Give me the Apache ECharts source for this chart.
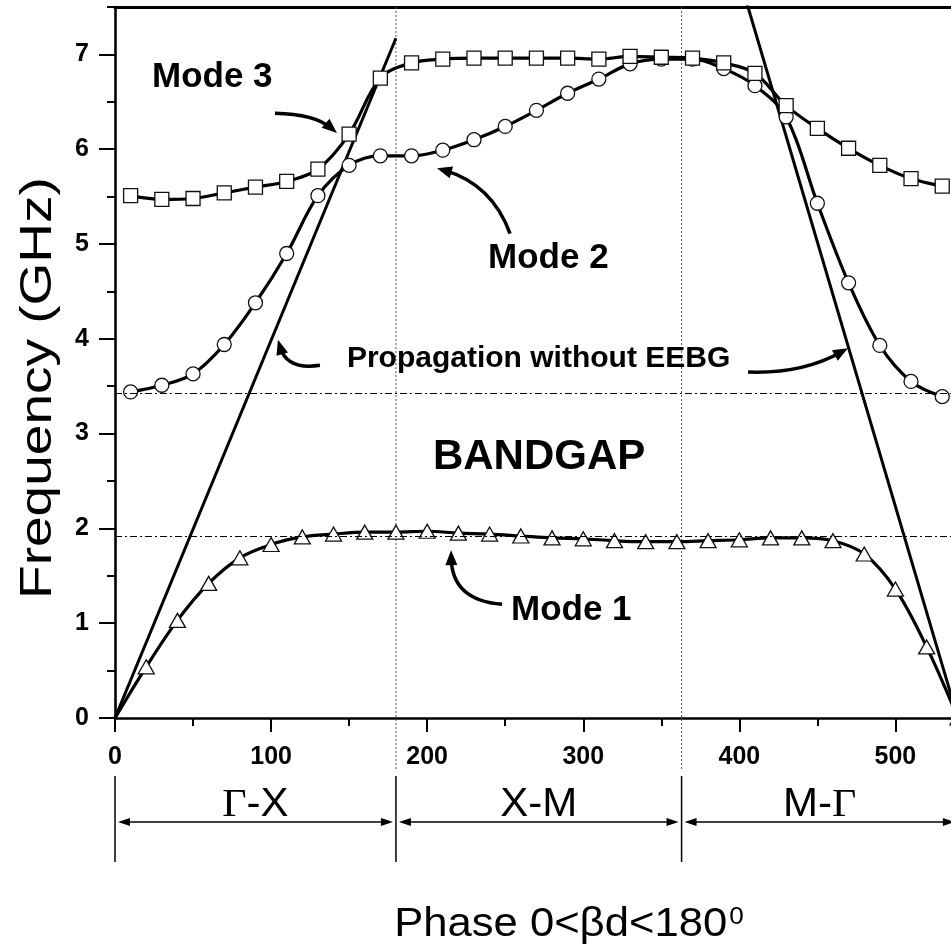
<!DOCTYPE html>
<html>
<head>
<meta charset="utf-8">
<script src="https://cdn.jsdelivr.net/npm/echarts@6/dist/echarts.min.js"></script>
<style>
  html, body { margin: 0; padding: 0; background: #ffffff; }
  #chart { width: 951px; height: 947px; }
</style>
</head>
<body>
<div id="chart"></div>
<script>
// Dispersion diagram along the Γ-X-M-Γ path (phase in degrees, frequency in GHz)
const phaseMode1 = [0, 20, 40, 60, 80, 100, 120, 140, 160, 180, 200, 220, 240, 260,
  280, 300, 320, 340, 360, 380, 400, 420, 440, 460, 480, 500, 520, 540];
const freqMode1 = [0, 0.54, 1.03, 1.42, 1.69, 1.83, 1.91, 1.94, 1.96, 1.96, 1.97, 1.95, 1.94, 1.92,
  1.90, 1.89, 1.87, 1.86, 1.86, 1.87, 1.88, 1.90, 1.90, 1.87, 1.73, 1.36, 0.75, 0];

const phaseModes23 = [10, 30, 50, 70, 90, 110, 130, 150, 170, 190, 210, 230, 250, 270,
  290, 310, 330, 350, 370, 390, 410, 430, 450, 470, 490, 510, 530];
const freqMode2 = [3.44, 3.51, 3.63, 3.94, 4.38, 4.90, 5.51, 5.83, 5.93, 5.93, 5.99, 6.10, 6.24, 6.41,
  6.59, 6.74, 6.90, 6.95, 6.95, 6.85, 6.67, 6.34, 5.43, 4.59, 3.93, 3.55, 3.39];
const freqMode3 = [5.51, 5.47, 5.48, 5.54, 5.60, 5.66, 5.79, 6.16, 6.75, 6.91, 6.95, 6.96, 6.96, 6.96,
  6.96, 6.95, 6.98, 6.97, 6.96, 6.91, 6.80, 6.46, 6.22, 6.01, 5.83, 5.69, 5.61];

// Free propagation (no EEBG) light lines
const lightLeftPhase = [0, 180];
const lightLeftFreq = [0, 7.17];
const lightRightPhase = [400, 540];
const lightRightFreq = [7.81, 0];

// Band-gap edges and symmetry points
const bandEdgeFreqs = [3.43, 1.92];
const symmetryPhases = [0, 180, 363, 540];
const segmentNames = ['{g|Γ}-X', 'X-M', 'M-{g|Γ}'];

// Axis ranges
const phaseRange = [0, 600];
const phaseStep = 100;
const freqRange = [0, 7.5];
const freqStep = 1;

// Text annotations and pointer arrows, anchored in phase/frequency units
const notes = [
  { text: 'Mode 3', at: [23.7, 6.76], size: 35 },
  { text: 'Mode 2', at: [239, 4.85], size: 35 },
  { text: 'Mode 1', at: [253.7, 1.14], size: 35 },
  { text: 'Propagation without EEBG', at: [148.6, 3.79], size: 30 },
  { text: 'BANDGAP', at: [203.7, 2.75], size: 42 }
];
const pointers = [
  { from: [102.5, 6.38], ctrl: [128.1, 6.37], to: [142.2, 6.17] },
  { from: [253.1, 5.11], ctrl: [241.5, 5.63], to: [206.3, 5.80] },
  { from: [131.3, 3.72], ctrl: [110.2, 3.67], to: [104.4, 3.99] },
  { from: [405.6, 3.65], ctrl: [440.2, 3.63], to: [469.6, 3.90] },
  { from: [248.0, 1.20], ctrl: [216.0, 1.24], to: [215.3, 1.77] }
];

const FONT = "'Liberation Sans', Arial, Helvetica, sans-serif";
const zip = (xs, ys) => xs.map((x, i) => [x, ys[i]]);

const markerStyle = { color: '#ffffff', borderColor: '#111111', borderWidth: 1.3 };
const curveStyle = { color: '#000000', width: 3.2 };

const mode1Data = zip(phaseMode1, freqMode1).map((p, i) =>
  (i === 0 ? { value: p, symbol: 'none' } : p));

const option = {
  animation: false,
  backgroundColor: '#ffffff',
  grid: {
    left: 115, top: 7, right: -100.5, bottom: 229,
    containLabel: false, outerBoundsMode: 'none'
  },
  xAxis: [
    {
      type: 'value', position: 'bottom', min: phaseRange[0], max: phaseRange[1], interval: phaseStep,
      axisLine: { show: true, onZero: false, lineStyle: { color: '#000', width: 2.6 } },
      axisTick: { show: true, inside: false, length: 14, lineStyle: { color: '#000', width: 2 } },
      minorTick: { show: true, splitNumber: 2, length: 8, lineStyle: { color: '#000', width: 2 } },
      axisLabel: { color: '#000', fontSize: 25, fontWeight: 'bold', fontFamily: FONT, margin: 27, showMaxLabel: false },
      splitLine: { show: false }
    },
    {
      type: 'value', position: 'top', min: phaseRange[0], max: phaseRange[1],
      axisLine: { show: true, onZero: false, lineStyle: { color: '#000', width: 3 } },
      axisTick: { show: false }, axisLabel: { show: false }, splitLine: { show: false }
    }
  ],
  yAxis: [
    {
      type: 'value', position: 'left', min: freqRange[0], max: freqRange[1], interval: freqStep,
      axisLine: { show: true, onZero: false, lineStyle: { color: '#000', width: 2.6 } },
      axisTick: { show: true, inside: false, length: 16, lineStyle: { color: '#000', width: 2 } },
      axisLabel: { color: '#000', fontSize: 25, fontWeight: 'bold', fontFamily: FONT, margin: 26, showMaxLabel: false },
      splitLine: { show: false }
    },
    {
      type: 'value', position: 'left', min: freqRange[0], max: freqRange[1], interval: freqStep / 2,
      axisLine: { show: false },
      axisTick: { show: true, inside: false, length: 8, lineStyle: { color: '#000', width: 2 } },
      axisLabel: { show: false }, splitLine: { show: false }
    }
  ],
  series: [
    {
      name: 'Light line Γ-X', type: 'line', clip: true, symbol: 'none',
      data: zip(lightLeftPhase, lightLeftFreq), lineStyle: { color: '#000', width: 3 }, z: 2
    },
    {
      name: 'Light line M-Γ', type: 'line', clip: true, symbol: 'none',
      data: zip(lightRightPhase, lightRightFreq), lineStyle: { color: '#000', width: 3 }, z: 2
    },
    {
      name: 'Mode 1', type: 'line', clip: true, smooth: 0.35,
      symbol: 'triangle', symbolSize: [16, 14],
      data: mode1Data, lineStyle: curveStyle, itemStyle: markerStyle, z: 3,
      markLine: {
        silent: true, symbol: ['none', 'none'], label: { show: false },
        lineStyle: { color: '#000', width: 1, type: [7, 3, 2, 3] },
        data: bandEdgeFreqs.map(v => ({ yAxis: v }))
      }
    },
    {
      name: 'Mode 2', type: 'line', clip: true, smooth: 0.35,
      symbol: 'circle', symbolSize: 14,
      data: zip(phaseModes23, freqMode2), lineStyle: curveStyle, itemStyle: markerStyle, z: 4
    },
    {
      name: 'Mode 3', type: 'line', clip: true, smooth: 0.35,
      symbol: 'rect', symbolSize: 14,
      data: zip(phaseModes23, freqMode3), lineStyle: curveStyle, itemStyle: markerStyle, z: 5
    }
  ]
};

const chart = echarts.init(document.getElementById('chart'), null, { renderer: 'canvas' });
chart.setOption(option);

const toPx = (p) => chart.convertToPixel({ xAxisIndex: 0, yAxisIndex: 0 }, p);

function arrowHead(tip, from, len, half) {
  const dx = tip[0] - from[0], dy = tip[1] - from[1];
  const d = Math.hypot(dx, dy) || 1;
  const ux = dx / d, uy = dy / d;
  const bx = tip[0] - ux * len, by = tip[1] - uy * len;
  return [[tip[0], tip[1]], [bx - uy * half, by + ux * half], [bx + uy * half, by - ux * half]];
}

const elements = [];

// Annotation texts
notes.forEach(n => {
  const p = toPx(n.at);
  elements.push({
    type: 'text', x: p[0], y: p[1], z: 20,
    style: { text: n.text, fill: '#000', fontSize: n.size, fontWeight: 'bold', fontFamily: FONT,
      align: 'left', verticalAlign: 'middle' }
  });
});

// Curved pointer arrows
pointers.forEach(a => {
  const s = toPx(a.from), c = toPx(a.ctrl), e = toPx(a.to);
  const dx = e[0] - c[0], dy = e[1] - c[1];
  const d = Math.hypot(dx, dy) || 1;
  const end = [e[0] - dx / d * 8, e[1] - dy / d * 8];
  elements.push({
    type: 'bezierCurve', z: 20,
    shape: { x1: s[0], y1: s[1], cpx1: c[0], cpy1: c[1], x2: end[0], y2: end[1] },
    style: { stroke: '#000', lineWidth: 3.5, fill: null }
  });
  elements.push({
    type: 'polygon', z: 21,
    shape: { points: arrowHead(e, c, 15, 6) },
    style: { fill: '#000' }
  });
});

// Symmetry-point guides: dotted in the plot, solid brackets with arrows below
const topPx = toPx([0, freqRange[1]])[1];
const axisPx = toPx([0, freqRange[0]])[1];
const sx = symmetryPhases.map(v => toPx([v, 0])[0]);
sx.forEach((x, i) => {
  if (i > 0 && i < sx.length - 1) {
    elements.push({
      type: 'line', z: 1,
      shape: { x1: x, y1: topPx, x2: x, y2: axisPx + 52 },
      style: { stroke: '#555', lineWidth: 1, lineDash: [2, 2] }
    });
  }
  elements.push({
    type: 'line', z: 10,
    shape: { x1: x, y1: axisPx + 58, x2: x, y2: axisPx + 144 },
    style: { stroke: '#000', lineWidth: 1.5 }
  });
});
const arrowY = axisPx + 104;
for (let i = 0; i < sx.length - 1; i++) {
  const a = sx[i] + 3, b = sx[i + 1] - 3;
  elements.push({
    type: 'line', z: 10,
    shape: { x1: a + 8, y1: arrowY, x2: b - 8, y2: arrowY },
    style: { stroke: '#000', lineWidth: 1.5 }
  });
  elements.push({ type: 'polygon', z: 10, shape: { points: arrowHead([a, arrowY], [a + 20, arrowY], 12, 4) }, style: { fill: '#000' } });
  elements.push({ type: 'polygon', z: 10, shape: { points: arrowHead([b, arrowY], [b - 20, arrowY], 12, 4) }, style: { fill: '#000' } });
  elements.push({
    type: 'text', x: (sx[i] + sx[i + 1]) / 2, y: axisPx + 87, z: 10, scaleX: 1.05,
    style: {
      text: segmentNames[i], fill: '#000', fontSize: 40, fontFamily: FONT,
      align: 'center', verticalAlign: 'middle',
      rich: { g: { fontSize: 40, fontFamily: "'Liberation Serif', 'Times New Roman', serif", fill: '#000' } }
    }
  });
}

// Axis titles
elements.push({
  type: 'text', x: 39, y: 388, rotation: Math.PI / 2, scaleX: 1.25, z: 10,
  style: { text: 'Frequency (GHz)', fill: '#000', fontSize: 44, fontFamily: FONT, align: 'center', verticalAlign: 'middle' }
});
elements.push({
  type: 'text', x: 569, y: 925, scaleX: 1.09, z: 10,
  style: {
    text: '{a|Phase 0<βd<180}{s|0}', fill: '#000', align: 'center', verticalAlign: 'middle',
    rich: {
      a: { fontSize: 40, fontFamily: FONT, fill: '#000' },
      s: { fontSize: 24, fontFamily: FONT, fill: '#000', verticalAlign: 'top', padding: [0, 0, 14, 2] }
    }
  }
});

chart.setOption({ graphic: { elements: elements } });
</script>
</body>
</html>
